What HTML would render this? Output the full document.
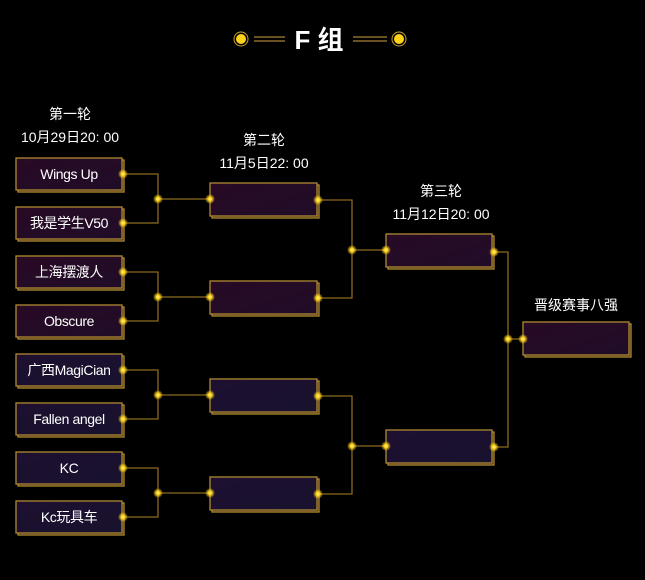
<!DOCTYPE html>
<html><head><meta charset="utf-8"><style>
html,body{margin:0;padding:0;background:#000;width:645px;height:580px;overflow:hidden}
svg{display:block}
text{font-family:"Liberation Sans","Noto Sans CJK SC",sans-serif;fill:#fff}
</style></head><body>
<svg width="645" height="580" viewBox="0 0 645 580">
<defs>
<radialGradient id="g"><stop offset="0" stop-color="#fff6a0"/><stop offset="0.35" stop-color="#ffd21a"/><stop offset="1" stop-color="#ffd21a" stop-opacity="0"/></radialGradient>
<linearGradient id="bf" x1="0" y1="0" x2="1" y2="1"><stop offset="0" stop-color="#280a24"/><stop offset="1" stop-color="#200c28"/></linearGradient>
<linearGradient id="bf2" x1="0" y1="0" x2="1" y2="1"><stop offset="0" stop-color="#1e0f30"/><stop offset="1" stop-color="#18122e"/></linearGradient>
</defs>
<circle cx="241" cy="39" r="5.5" fill="#ffd21a" stroke="#000" stroke-width="1"/><circle cx="241" cy="39" r="7" fill="none" stroke="#c9a227" stroke-width="1"/>
<circle cx="399" cy="39" r="5.5" fill="#ffd21a" stroke="#000" stroke-width="1"/><circle cx="399" cy="39" r="7" fill="none" stroke="#c9a227" stroke-width="1"/>
<g stroke="#8a6a2a" stroke-width="1.5"><line x1="254" y1="37" x2="285" y2="37"/><line x1="254" y1="41" x2="285" y2="41"/><line x1="353" y1="37" x2="387" y2="37"/><line x1="353" y1="41" x2="387" y2="41"/></g>
<text x="319" y="49" font-size="26" font-weight="bold" text-anchor="middle">F 组</text>
<g font-size="14" text-anchor="middle">
<text x="70" y="119">第一轮</text><text x="70" y="142">10月29日20: 00</text>
<text x="264" y="145">第二轮</text><text x="264" y="168">11月5日22: 00</text>
<text x="441" y="196">第三轮</text><text x="441" y="219">11月12日20: 00</text>
<text x="576" y="310">晋级赛事八强</text>
</g>
<g stroke="#8a6a1e" stroke-width="1.3" fill="none">
<path d="M123 174H158V223H123M158 199H210"/>
<path d="M123 272H158V321H123M158 297H210"/>
<path d="M123 370H158V419H123M158 395H210"/>
<path d="M123 468H158V517H123M158 493H210"/>
<path d="M319 200H352V298H319M352 250H386"/>
<path d="M319 396H352V494H319M352 446H386"/>
<path d="M494 252H508V447H494M508 339H523"/>
</g>
<g stroke="#b08a30" stroke-width="1.3">
<rect x="18" y="160" width="106" height="32" fill="#2a1a14"/><rect x="16" y="158" width="106" height="32" fill="url(#bf)"/>
<rect x="18" y="209" width="106" height="32" fill="#2a1a14"/><rect x="16" y="207" width="106" height="32" fill="url(#bf)"/>
<rect x="18" y="258" width="106" height="32" fill="#2a1a14"/><rect x="16" y="256" width="106" height="32" fill="url(#bf)"/>
<rect x="18" y="307" width="106" height="32" fill="#2a1a14"/><rect x="16" y="305" width="106" height="32" fill="url(#bf)"/>
<rect x="18" y="356" width="106" height="32" fill="#2a1a14"/><rect x="16" y="354" width="106" height="32" fill="url(#bf2)"/>
<rect x="18" y="405" width="106" height="32" fill="#2a1a14"/><rect x="16" y="403" width="106" height="32" fill="url(#bf2)"/>
<rect x="18" y="454" width="106" height="32" fill="#2a1a14"/><rect x="16" y="452" width="106" height="32" fill="url(#bf2)"/>
<rect x="18" y="503" width="106" height="32" fill="#2a1a14"/><rect x="16" y="501" width="106" height="32" fill="url(#bf2)"/>
<rect x="212" y="185" width="107" height="33" fill="#2a1a14"/><rect x="210" y="183" width="107" height="33" fill="url(#bf)"/>
<rect x="212" y="283" width="107" height="33" fill="#2a1a14"/><rect x="210" y="281" width="107" height="33" fill="url(#bf)"/>
<rect x="212" y="381" width="107" height="33" fill="#2a1a14"/><rect x="210" y="379" width="107" height="33" fill="url(#bf2)"/>
<rect x="212" y="479" width="107" height="33" fill="#2a1a14"/><rect x="210" y="477" width="107" height="33" fill="url(#bf2)"/>
<rect x="388" y="236" width="106" height="33" fill="#2a1a14"/><rect x="386" y="234" width="106" height="33" fill="url(#bf)"/>
<rect x="388" y="432" width="106" height="33" fill="#2a1a14"/><rect x="386" y="430" width="106" height="33" fill="url(#bf2)"/>
<rect x="525" y="324" width="106" height="33" fill="#2a1a14"/><rect x="523" y="322" width="106" height="33" fill="url(#bf)"/>
</g>
<g font-size="14" text-anchor="middle" letter-spacing="-0.4">
<text x="69" y="179">Wings Up</text>
<text x="69" y="228">我是学生V50</text>
<text x="69" y="277">上海摆渡人</text>
<text x="69" y="326">Obscure</text>
<text x="69" y="375">广西MagiCian</text>
<text x="69" y="424">Fallen angel</text>
<text x="69" y="473">KC</text>
<text x="69" y="522">Kc玩具车</text>
</g>
<g fill="url(#g)">
<circle cx="123" cy="174" r="5"/><circle cx="123" cy="223" r="5"/><circle cx="123" cy="272" r="5"/><circle cx="123" cy="321" r="5"/>
<circle cx="123" cy="370" r="5"/><circle cx="123" cy="419" r="5"/><circle cx="123" cy="468" r="5"/><circle cx="123" cy="517" r="5"/>
<circle cx="158" cy="199" r="5"/><circle cx="158" cy="297" r="5"/><circle cx="158" cy="395" r="5"/><circle cx="158" cy="493" r="5"/>
<circle cx="210" cy="199" r="5"/><circle cx="210" cy="297" r="5"/><circle cx="210" cy="395" r="5"/><circle cx="210" cy="493" r="5"/>
<circle cx="318" cy="200" r="5"/><circle cx="318" cy="298" r="5"/><circle cx="318" cy="396" r="5"/><circle cx="318" cy="494" r="5"/>
<circle cx="352" cy="250" r="5"/><circle cx="352" cy="446" r="5"/><circle cx="386" cy="250" r="5"/><circle cx="386" cy="446" r="5"/>
<circle cx="494" cy="252" r="5"/><circle cx="494" cy="447" r="5"/><circle cx="508" cy="339" r="5"/><circle cx="523" cy="339" r="5"/>
</g>
</svg>
</body></html>
